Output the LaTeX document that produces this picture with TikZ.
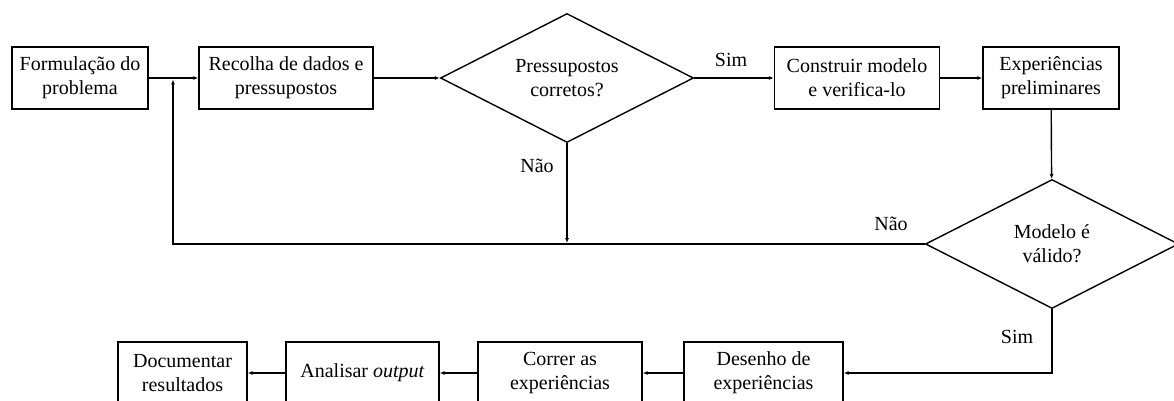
\documentclass[tikz,border=0pt]{standalone}
\usepackage{fontspec}
\setmainfont{Liberation Serif}
\usetikzlibrary{arrows.meta,shapes.geometric}
\begin{document}
\begin{tikzpicture}[x=1pt,y=-1pt,
  every node/.style={font=\fontsize{20}{24}\selectfont},
  box/.style={draw, line width=1.4pt, minimum height=62pt, inner sep=2pt, align=center},
  decision/.style={draw, diamond, line width=1.4pt, aspect=1.96, minimum width=253pt, minimum height=129pt, inner sep=0pt, align=center},
  flow/.style={line width=1.4pt, -{Latex[length=5pt,width=4pt]}},
  lbl/.style={inner sep=0pt}]
\useasboundingbox (0,0) rectangle (1174,401);
% top row
\node[box, minimum width=136pt] (f) at (80,78) {Formulação do\\problema};
\node[box, minimum width=174pt] (r) at (286,78) {Recolha de dados e\\pressupostos};
\node[decision] (d1) at (567,78) {Pressupostos\\corretos?};
\node[box, minimum width=165pt] (c) at (857,78) {Construir modelo\\e verifica-lo};
\node[box, minimum width=136pt] (e) at (1051,78) {Experiências\\preliminares};
% validation
\node[decision] (d2) at (1052,244) {Modelo é\\válido?};
% bottom row
\node[box, minimum width=159pt] (de) at (763.5,373) {Desenho de\\experiências};
\node[box, minimum width=164pt] (co) at (560,373) {Correr as\\experiências};
\node[box, minimum width=153pt] (an) at (362.5,373) {Analisar \textit{output}};
\node[box, minimum width=129pt] (doc) at (182.5,373) {Documentar\\resultados};
% helper points of the feedback loop
\coordinate (fbtop) at (173,79.5);
\coordinate (fbcorner) at (173,244);
\coordinate (nohit) at (567,243);
% connectors
\draw[flow] (f) -- (r);
\draw[flow] (r) -- (d1);
\draw[flow] (d1) -- (c);
\draw[flow] (c) -- (e);
\draw[flow] (e) -- (d2);
\draw[flow] (d1.south) -- (nohit);
\draw[flow] (d2.west) -- (fbcorner) -- (fbtop);
\draw[flow] (d2.south) |- (de.east);
\draw[flow] (de) -- (co);
\draw[flow] (co) -- (an);
\draw[flow] (an) -- (doc);
% branch labels
\node[lbl] (s1) at (731,60) {Sim};
\node[lbl] (n1) at (537,166) {Não};
\node[lbl] (n2) at (891,224) {Não};
\node[lbl] (s2) at (1017,337) {Sim};
\end{tikzpicture}
\end{document}
